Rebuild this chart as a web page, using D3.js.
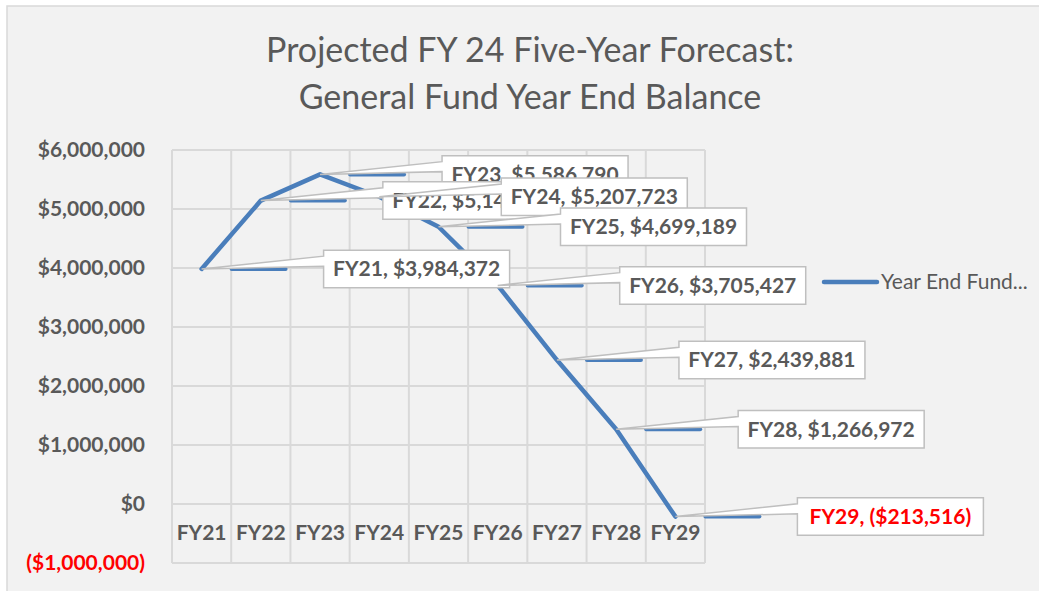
<!DOCTYPE html>
<html>
<head>
<meta charset="utf-8">
<script src="https://cdn.jsdelivr.net/npm/d3@7/dist/d3.min.js"></script>
<style>
  html, body { margin: 0; padding: 0; background: #ffffff; }
  svg { display: block; }
</style>
</head>
<body>
<svg id="chart" width="1039" height="591"></svg>
<script>
// ---- data ----
const categories = ["FY21", "FY22", "FY23", "FY24", "FY25", "FY26", "FY27", "FY28", "FY29"];
const balances = [3984372, 5142862, 5586790, 5207723, 4699189, 3705427, 2439881, 1266972, -213516];
const yTicks = [-1000000, 0, 1000000, 2000000, 3000000, 4000000, 5000000, 6000000];
const titleLines = ["Projected FY 24 Five-Year Forecast:", "General Fund Year End Balance"];
const seriesName = "Year End Fund...";
const labelOrder = [0, 2, 1, 3, 4, 5, 6, 7, 8];

// ---- setup ----
const W = 1039, H = 591;
const svg = d3.select("#chart");
const FONT = "Lato, 'Open Sans', sans-serif";
const TXT = "#595959";
const BLUE = "#4a7ebb";
const GRID = "#d9d9d9";

// chart area background
svg.append("rect").attr("x", 7).attr("y", 6).attr("width", W).attr("height", H)
  .attr("fill", "#f2f2f2").attr("stroke", "#d9d9d9").attr("stroke-width", 1.5);

const plot = { left: 172, right: 705, top: 150, bottom: 563 };
const x = d3.scaleBand().domain(categories).range([plot.left, plot.right]).padding(0);
const y = d3.scaleLinear().domain([-1000000, 6000000]).range([plot.bottom, plot.top]);
const cx = c => x(c) + x.bandwidth() / 2;

const money = v => {
  const s = "$" + d3.format(",")(Math.abs(v));
  return v < 0 ? "(" + s + ")" : s;
};

// title
svg.append("g").selectAll("text").data(titleLines).join("text")
  .attr("x", 530).attr("y", (d, i) => 62 + i * 47)
  .attr("text-anchor", "middle")
  .attr("font-family", FONT).attr("font-size", 34).attr("fill", TXT)
  .text(d => d);

// gridlines
const grid = svg.append("g");
grid.selectAll("line.h").data(yTicks).join("line").attr("class", "h")
  .attr("x1", plot.left).attr("x2", plot.right)
  .attr("y1", d => y(d)).attr("y2", d => y(d))
  .attr("stroke", GRID).attr("stroke-width", 2);
const edges = categories.map(c => x(c)).concat([plot.right]);
grid.selectAll("line.v").data(edges).join("line").attr("class", "v")
  .attr("x1", d => d).attr("x2", d => d)
  .attr("y1", plot.top).attr("y2", plot.bottom)
  .attr("stroke", GRID).attr("stroke-width", 2);

// y axis labels
const yAxis = d3.axisLeft(y).tickValues(yTicks).tickFormat(money).tickSize(0).tickPadding(0);
const yg = svg.append("g").attr("transform", "translate(145,0)").call(yAxis);
yg.select(".domain").remove();
yg.selectAll("text")
  .attr("font-family", FONT).attr("font-size", 21).attr("font-weight", "bold")
  .attr("fill", d => d < 0 ? "#ff0000" : TXT);

// x axis labels
const xAxis = d3.axisBottom(x).tickSize(0).tickPadding(0);
const xg = svg.append("g").attr("transform", "translate(0," + y(0) + ")").call(xAxis);
xg.select(".domain").remove();
xg.selectAll("text")
  .attr("y", 29).attr("dy", "0.35em")
  .attr("font-family", FONT).attr("font-size", 21).attr("font-weight", "bold")
  .attr("fill", TXT);

const pts = categories.map((c, i) => ({ c, v: balances[i], px: cx(c), py: y(balances[i]) }));

// label legend-key segments
svg.append("g").selectAll("line").data(pts).join("line")
  .attr("x1", d => d.px + 30).attr("x2", d => d.px + 84)
  .attr("y1", d => d.py).attr("y2", d => d.py)
  .attr("stroke", BLUE).attr("stroke-width", 4).attr("stroke-linecap", "round");

// main line
svg.append("path").datum(pts)
  .attr("d", d3.line().x(d => d.px).y(d => d.py))
  .attr("fill", "none").attr("stroke", BLUE).attr("stroke-width", 4.5)
  .attr("stroke-linejoin", "round").attr("stroke-linecap", "round");

// data label callouts
const BW = 186, BH = 37.5, OFF = 122;
const lg = svg.append("g");
labelOrder.forEach(i => {
  const d = pts[i];
  const l = d.px + OFF, t = d.py - BH / 2, r = l + BW, b = t + BH;
  const g = lg.append("g");
  g.append("path")
    .attr("d", `M${l},${t}H${r}V${b}H${l}V${t + 16}L${d.px},${d.py}L${l},${t + 6}Z`)
    .attr("fill", "#ffffff").attr("stroke", "#bfbfbf").attr("stroke-width", 1.5)
    .attr("stroke-linejoin", "miter");
  g.append("text")
    .attr("x", l + BW / 2).attr("y", d.py).attr("dy", "0.35em")
    .attr("text-anchor", "middle")
    .attr("font-family", FONT).attr("font-size", 21).attr("font-weight", "bold")
    .attr("fill", d.v < 0 ? "#ff0000" : TXT)
    .text(d.c + ", " + money(d.v));
});

// legend
svg.append("line").attr("x1", 824).attr("x2", 877).attr("y1", 282).attr("y2", 282)
  .attr("stroke", BLUE).attr("stroke-width", 4.5).attr("stroke-linecap", "round");
svg.append("text").attr("x", 881).attr("y", 282).attr("dy", "0.35em")
  .attr("font-family", FONT).attr("font-size", 21).attr("fill", TXT)
  .text(seriesName);
</script>
</body>
</html>
